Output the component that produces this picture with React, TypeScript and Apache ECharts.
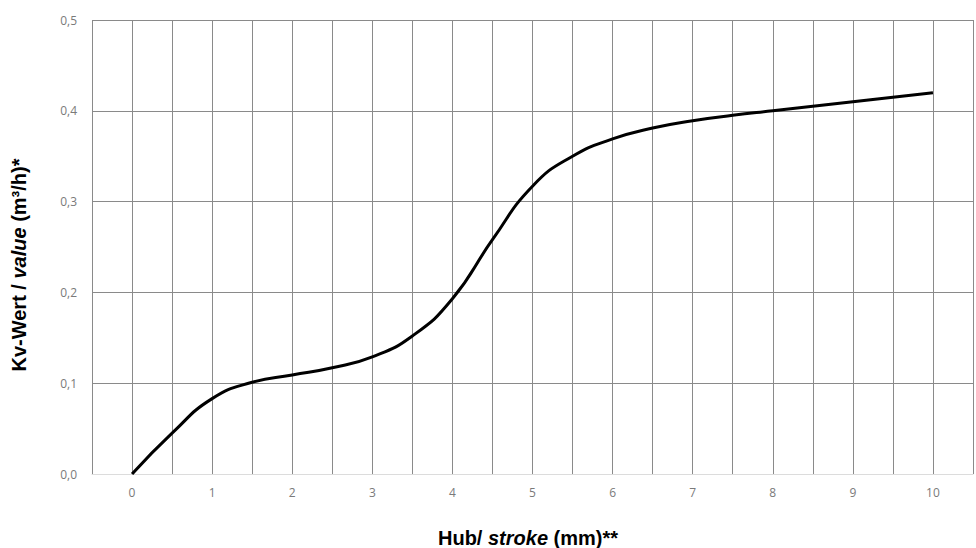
import React, { useEffect, useRef } from "react";
import * as echarts from "echarts";

const strokeMm = [0, 0.5, 1, 1.5, 2, 2.5, 3, 3.5, 4, 4.5, 5, 5.5, 6, 6.5, 7, 7.5, 8, 8.5, 9, 9.5, 10];
const kvValues = [0, 0.045, 0.083, 0.101, 0.109, 0.117, 0.129, 0.152, 0.193, 0.258, 0.317, 0.35, 0.369, 0.381, 0.389, 0.395, 0.4, 0.405, 0.41, 0.415, 0.42];
const xTickLabels = ["0", "1", "2", "3", "4", "5", "6", "7", "8", "9", "10"];

export default function App() {
  const ref = useRef<HTMLDivElement>(null);
  useEffect(() => {
    document.body.style.margin = "0";
    const chart = echarts.init(ref.current!, null, { renderer: "svg" });
    const gridColor = "#8a8a8a";
    const nameFont = "Liberation Sans, Arial, sans-serif";
    chart.setOption({
      animation: false,
      backgroundColor: "#ffffff",
      grid: { left: 92, top: 20, width: 887, height: 454, containLabel: false },
      xAxis: {
        type: "value",
        min: -0.5,
        max: 10.5,
        interval: 0.5,
        axisLine: { show: true, lineStyle: { color: "#dcdcdc", width: 1 } },
        axisTick: { show: false },
        axisLabel: {
          color: "#7a7a7a",
          fontSize: 12,
          fontFamily: "Open Sans, Liberation Sans, sans-serif",
          margin: 12,
          formatter: (v: number) => {
            const r = Math.round(v);
            if (Math.abs(v - r) > 1e-6) return "";
            return xTickLabels.includes(String(r)) ? String(r) : "";
          },
        },
        splitLine: { show: true, lineStyle: { color: gridColor, width: 1 } },
      },
      yAxis: {
        type: "value",
        min: 0,
        max: 0.5,
        interval: 0.1,
        axisLine: { show: false },
        axisTick: { show: false },
        axisLabel: {
          color: "#7a7a7a",
          fontSize: 12,
          fontFamily: "Open Sans, Liberation Sans, sans-serif",
          margin: 15,
          formatter: (v: number) => v.toFixed(1).replace(".", ","),
        },
        splitLine: { show: true, lineStyle: { color: gridColor, width: 1 } },
      },
      series: [
        {
          type: "line",
          data: strokeMm.map((x, i) => [x, kvValues[i]]),
          smooth: 0.5,
          showSymbol: false,
          lineStyle: { color: "#000000", width: 3 },
        },
      ],
      graphic: [
        {
          type: "text",
          x: 528,
          y: 538,
          style: {
            text: "{b|Hub/ }{i|stroke}{b| (mm)**}",
            align: "center",
            verticalAlign: "middle",
            rich: {
              b: { fontSize: 20, fontWeight: "bold", fontFamily: nameFont, fill: "#000" },
              i: { fontSize: 20, fontWeight: "bold", fontStyle: "italic", fontFamily: nameFont, fill: "#000" },
            },
          },
        },
        {
          type: "text",
          x: 19,
          y: 265,
          rotation: Math.PI / 2,
          style: {
            text: "{b|Kv-Wert / }{i|value}{b| (m³/h)*}",
            align: "center",
            verticalAlign: "middle",
            rich: {
              b: { fontSize: 20, fontWeight: "bold", fontFamily: nameFont, fill: "#000" },
              i: { fontSize: 20, fontWeight: "bold", fontStyle: "italic", fontFamily: nameFont, fill: "#000" },
            },
          },
        },
      ],
    });
    return () => chart.dispose();
  }, []);
  return <div ref={ref} style={{ width: 976, height: 548 }} />;
}
